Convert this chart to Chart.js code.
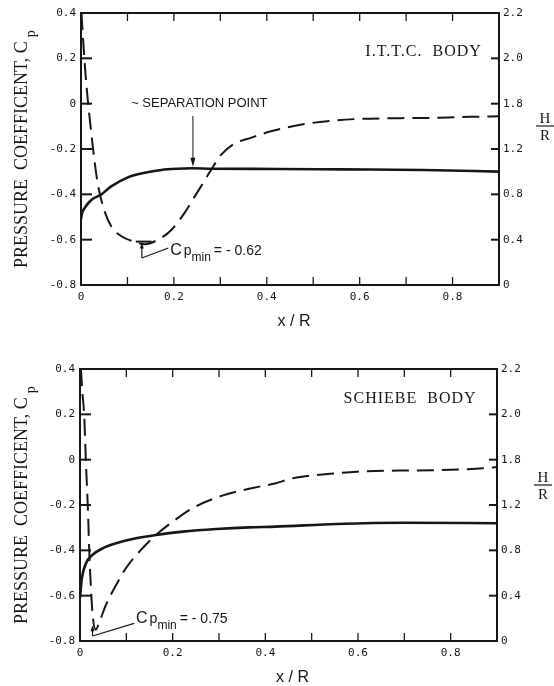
<!DOCTYPE html>
<html>
<head>
<meta charset="utf-8">
<script src="https://cdn.jsdelivr.net/npm/chart.js@4.4.0/dist/chart.umd.min.js"></script>
<style>
html,body{margin:0;padding:0;background:#fff;}
.wrap{position:absolute;left:0;width:554px;height:343px;}
#w1{top:0;}
#w2{top:343px;}
</style>
</head>
<body>
<div class="wrap" id="w1"><canvas id="c1"></canvas></div>
<div class="wrap" id="w2"><canvas id="c2"></canvas></div>
<script>
// ---- tick labels ----
const xTickLabels = ["0", "0.2", "0.4", "0.6", "0.8"];
const cpTickLabels = ["-0.8", "-0.6", "-0.4", "-0.2", "0", "0.2", "0.4"];
const hrTickLabels = ["0", "0.4", "0.8", "1.2", "1.8", "2.0", "2.2"];

// ---- I.T.T.C. body ----
const ittcCpX = [0.001, 0.004, 0.009, 0.014, 0.019, 0.026, 0.035, 0.047, 0.065, 0.087, 0.112, 0.137, 0.166, 0.195, 0.223, 0.245, 0.267, 0.281, 0.302, 0.331, 0.367, 0.407, 0.472, 0.537, 0.601, 0.688, 0.774, 0.838, 0.900];
const ittcCp  = [0.40, 0.30, 0.15, 0.03, -0.07, -0.20, -0.34, -0.45, -0.541, -0.585, -0.607, -0.62, -0.60, -0.556, -0.482, -0.409, -0.336, -0.289, -0.225, -0.176, -0.150, -0.123, -0.093, -0.076, -0.067, -0.064, -0.062, -0.058, -0.056];
const ittcHX  = [0, 0.002, 0.008, 0.022, 0.044, 0.065, 0.101, 0.137, 0.173, 0.209, 0.238, 0.281, 0.425, 0.558, 0.737, 0.900];
const ittcH   = [0.58, 0.63, 0.68, 0.75, 0.80, 0.87, 0.95, 0.99, 1.015, 1.026, 1.03, 1.026, 1.024, 1.02, 1.015, 1.00];

// ---- Schiebe body ----
const schiebeCpX = [0.002, 0.005, 0.009, 0.013, 0.017, 0.020, 0.024, 0.028, 0.034, 0.042, 0.056, 0.078, 0.099, 0.128, 0.164, 0.200, 0.243, 0.294, 0.344, 0.387, 0.423, 0.453, 0.479, 0.540, 0.597, 0.654, 0.712, 0.770, 0.820, 0.870, 0.900];
const schiebeCp  = [0.40, 0.30, 0.197, -0.023, -0.214, -0.406, -0.582, -0.70, -0.75, -0.715, -0.641, -0.553, -0.479, -0.406, -0.332, -0.274, -0.214, -0.168, -0.138, -0.119, -0.104, -0.085, -0.075, -0.062, -0.053, -0.049, -0.048, -0.046, -0.043, -0.038, -0.032];
const schiebeHX  = [0, 0.004, 0.013, 0.027, 0.049, 0.078, 0.121, 0.164, 0.222, 0.294, 0.365, 0.421, 0.554, 0.697, 0.900];
const schiebeH   = [0.38, 0.553, 0.686, 0.76, 0.818, 0.862, 0.906, 0.936, 0.965, 0.988, 1.003, 1.009, 1.033, 1.044, 1.039];

const INK = '#161616';
const SERIF = '"Liberation Serif", "Times New Roman", serif';
const SANS = '"Liberation Sans", Arial, sans-serif';
const MONO = '"DejaVu Sans Mono", monospace';

function pts(xs, ys) { return xs.map((x, i) => ({x: x, y: ys[i]})); }

function line(ctx, x1, y1, x2, y2) { ctx.beginPath(); ctx.moveTo(x1, y1); ctx.lineTo(x2, y2); ctx.stroke(); }
function head(ctx, tx, ty, dir, w, l) {
  ctx.beginPath();
  ctx.moveTo(tx, ty);
  ctx.lineTo(tx - w / 2, ty - dir * l);
  ctx.lineTo(tx + w / 2, ty - dir * l);
  ctx.closePath(); ctx.fill();
}

const framePlugin = {
  id: 'frame',
  afterDatasetsDraw(chart, args, o) {
    const ctx = chart.ctx, a = chart.chartArea;
    const xs = chart.scales.x, ys = chart.scales.y, y2 = chart.scales.y2;
    const X = v => xs.getPixelForValue(v), Y = v => ys.getPixelForValue(v);
    ctx.save();
    ctx.strokeStyle = INK; ctx.fillStyle = INK; ctx.lineCap = 'butt';
    // frame
    ctx.lineWidth = 2;
    ctx.strokeRect(a.left, a.top, a.right - a.left, a.bottom - a.top);
    // inward x ticks
    ctx.lineWidth = 1.3;
    xs.ticks.forEach(t => {
      if (t.value <= xs.min + 1e-9 || t.value >= xs.max - 1e-9) return;
      const px = X(t.value);
      line(ctx, px, a.top, px, a.top + 8);
      line(ctx, px, a.bottom, px, a.bottom - 8);
    });
    // inward y ticks
    ctx.lineWidth = 2;
    ys.ticks.forEach(t => {
      if (t.value <= ys.min + 1e-9 || t.value >= ys.max - 1e-9) return;
      const py = Y(t.value);
      line(ctx, a.left, py, a.left + 11, py);
    });
    y2.ticks.forEach(t => {
      if (t.value <= y2.min + 1e-9 || t.value >= y2.max - 1e-9) return;
      const py = y2.getPixelForValue(t.value);
      line(ctx, a.right, py, a.right - 8, py);
    });

    // left axis title (rotated)
    ctx.save();
    ctx.translate(o.leftTitleBaseX, a.bottom - o.leftTitleStart);
    ctx.rotate(-Math.PI / 2);
    ctx.textAlign = 'left'; ctx.textBaseline = 'alphabetic';
    ctx.font = '18px ' + SERIF;
    const main = 'PRESSURE  COEFFICENT, C';
    ctx.fillText(main, 0, 0);
    const mw = ctx.measureText(main).width;
    ctx.font = '14px ' + SERIF;
    ctx.fillText('p', mw + 4, 8);
    ctx.restore();

    // right axis title H/R
    const hx = a.right + 46;
    ctx.font = '15px ' + SERIF; ctx.textAlign = 'center'; ctx.textBaseline = 'alphabetic';
    ctx.fillText('H', hx, a.top + o.hrTop);
    ctx.lineWidth = 1.2;
    line(ctx, hx - 9, a.top + o.hrTop + 3, hx + 9, a.top + o.hrTop + 3);
    ctx.fillText('R', hx, a.top + o.hrTop + 17);

    // x axis title
    ctx.font = '16px ' + SANS; ctx.textAlign = 'center';
    ctx.fillText('x / R', (a.left + a.right) / 2 + 4, a.bottom + 41);

    // body name
    ctx.font = '16px ' + SERIF; ctx.textAlign = 'right';
    ctx.letterSpacing = '1px';
    ctx.fillText(o.body.text, X(o.body.x), Y(o.body.y));
    ctx.letterSpacing = '0px';

    // separation point
    if (o.sep) {
      ctx.font = '13px ' + SANS; ctx.textAlign = 'left';
      ctx.fillText(o.sep.text, X(o.sep.x), Y(o.sep.y));
      ctx.lineWidth = 1;
      const ax = X(o.sep.ax), ay1 = Y(o.sep.ay1), ay2 = Y(o.sep.ay2);
      line(ctx, ax, ay1, ax, ay2 - 6);
      head(ctx, ax, ay2, 1, 5, 9);
    }

    // Cp min leader
    const m = o.cpmin;
    ctx.lineWidth = 1.2;
    const lx = X(m.lx), ly1 = Y(m.ly1), ly2 = Y(m.ly2);
    line(ctx, lx, ly1, lx, ly2 + 4);
    head(ctx, lx, ly2, -1, 4, 6);
    if (m.bar) { ctx.lineWidth = 2; line(ctx, X(m.bar[0]), ly2 - 1, X(m.bar[1]), ly2 - 1); ctx.lineWidth = 1.2; }
    line(ctx, lx, ly1, X(m.ex), Y(m.ey));
    // Cp min text
    let tx = X(m.tx); const ty = Y(m.ty);
    ctx.textAlign = 'left'; ctx.textBaseline = 'alphabetic';
    ctx.font = '16px ' + SANS; ctx.fillText('C', tx, ty); tx += ctx.measureText('C').width + 2;
    ctx.font = '14px ' + SANS; ctx.fillText('p', tx, ty); tx += ctx.measureText('p').width;
    ctx.font = '12px ' + SANS; ctx.fillText('min', tx, ty + 6); tx += ctx.measureText('min').width + 3;
    ctx.font = '14px ' + SANS; ctx.fillText('= - ' + m.value, tx, ty);
    ctx.restore();
  }
};

function makeChart(id, cfg) {
  const W = 554, H = 343;
  return new Chart(document.getElementById(id), {
    type: 'line',
    data: {
      datasets: [
        {
          label: 'Cp', data: pts(cfg.cpX, cfg.cp), yAxisID: 'y',
          borderColor: INK, borderWidth: 2, borderDash: [17, 8],
          pointRadius: 0, fill: false, cubicInterpolationMode: 'monotone'
        },
        {
          label: 'H/R', data: pts(cfg.hX, cfg.h), yAxisID: 'y2',
          borderColor: INK, borderWidth: 2.6,
          pointRadius: 0, fill: false, cubicInterpolationMode: 'monotone'
        }
      ]
    },
    options: {
      responsive: true, maintainAspectRatio: false, animation: false,
      devicePixelRatio: 1,
      layout: { padding: { top: cfg.top, left: 0, right: 0, bottom: 0 } },
      plugins: {
        legend: { display: false }, tooltip: { enabled: false },
        frame: cfg.frame
      },
      scales: {
        x: {
          type: 'linear', min: 0, max: 0.9,
          grid: { display: false, drawTicks: false }, border: { display: false },
          afterFit: s => { s.height = H - cfg.bottom; },
          ticks: {
            stepSize: 0.1, autoSkip: false, maxRotation: 0, padding: 6,
            color: INK, font: { family: MONO, size: 11 },
            callback: (v, i) => (i % 2 === 0 && xTickLabels[i / 2] !== undefined) ? xTickLabels[i / 2] : ''
          }
        },
        y: {
          type: 'linear', position: 'left', min: -0.8, max: 0.4,
          grid: { display: false, drawTicks: false }, border: { display: false },
          afterFit: s => { s.width = cfg.left; },
          ticks: {
            stepSize: 0.2, autoSkip: false, padding: 5,
            color: INK, font: { family: MONO, size: 11 },
            callback: (v, i) => cpTickLabels[i]
          }
        },
        y2: {
          type: 'linear', position: 'right', min: 0, max: 2.4,
          grid: { display: false, drawTicks: false }, border: { display: false },
          afterFit: s => { s.width = W - cfg.right; },
          ticks: {
            stepSize: 0.4, autoSkip: false, padding: 4,
            color: INK, font: { family: MONO, size: 11 },
            callback: (v, i) => hrTickLabels[i]
          }
        }
      }
    },
    plugins: [framePlugin]
  });
}

makeChart('c1', {
  cpX: ittcCpX, cp: ittcCp, hX: ittcHX, h: ittcH,
  top: 13, bottom: 285, left: 81, right: 499,
  frame: {
    leftTitleBaseX: 27, leftTitleStart: 17, hrTop: 110,
    body: { text: 'I.T.T.C.  BODY', x: 0.863, y: 0.211 },
    sep: { text: '~ SEPARATION POINT', x: 0.108, y: -0.013, ax: 0.241, ay1: -0.054, ay2: -0.278 },
    cpmin: { value: '0.62', lx: 0.131, ly1: -0.681, ly2: -0.613, bar: [0.118, 0.152], ex: 0.188, ey: -0.637, tx: 0.192, ty: -0.666 }
  }
});

makeChart('c2', {
  cpX: schiebeCpX, cp: schiebeCp, hX: schiebeHX, h: schiebeH,
  top: 26, bottom: 298, left: 80, right: 497,
  frame: {
    leftTitleBaseX: 27, leftTitleStart: 17, hrTop: 113,
    body: { text: 'SCHIEBE  BODY', x: 0.856, y: 0.249 },
    sep: null,
    cpmin: { value: '0.75', lx: 0.027, ly1: -0.778, ly2: -0.73, bar: null, ex: 0.117, ey: -0.722, tx: 0.121, ty: -0.72 }
  }
});
</script>
</body>
</html>
